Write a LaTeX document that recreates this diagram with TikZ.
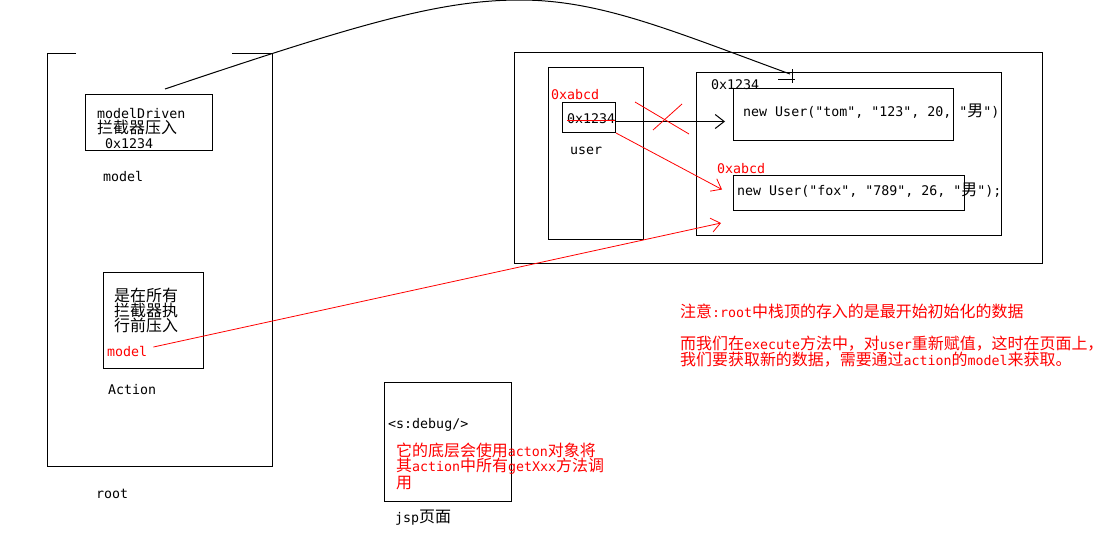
\documentclass[tikz,border=0pt]{standalone}
\usepackage{fontspec}
\setmonofont{DejaVu Sans Mono}
\newfontfamily\zhfont[Scale=1.2]{Noto Sans CJK SC}
\newcommand{\zh}[1]{{\zhfont #1}}
\usetikzlibrary{arrows.meta}
\begin{document}
\begin{tikzpicture}[x=1pt,y=-1pt,
	box/.style={draw,line width=1pt,inner sep=0pt,anchor=north west},
	txt/.style={anchor=base west,inner sep=0pt,align=left,font=\ttfamily\fontsize{13.3}{15}\selectfont},
	redtxt/.style={txt,text=red},
	redline/.style={draw=red,line width=0.8pt},
	ptr/.style={line width=1pt,-{Straight Barb[length=9pt,width=14pt]}},
	redptr/.style={redline,-{Straight Barb[length=9pt,width=14pt]}}]
	\useasboundingbox (0,0) rectangle (1110,544);
	\draw[line width=1pt] (76,53) -| (47,466) -| (272,53) -- (232,53);
	\node[box,minimum width=127,minimum height=56] (drv) at (85,94) {};
	\node[txt] (drvtxt) at (97,148) {modelDriven\\\zh{拦截器压入}\\\hspace{8pt}0x1234};
	\node[txt] (mdl) at (103,181) {model};
	\node[box,minimum width=100,minimum height=96] (act) at (103,272) {};
	\node[txt] (acttxt) at (114,331) {\zh{是在所有}\\\zh{拦截器执}\\\zh{行前压入}};
	\node[redtxt] (amdl) at (107,356) {model};
	\node[txt] (actlbl) at (108,394) {Action};
	\node[txt] (rootlbl) at (96,498) {root};
	\node[box,minimum width=528,minimum height=211] (ctx) at (514,52) {};
	\node[box,minimum width=95,minimum height=172] (usr) at (548,67) {};
	\node[box,minimum width=53,minimum height=30] (ref) at (562,102) {};
	\node[redtxt] (newaddr) at (551,99) {0xabcd};
	\node[txt] (oldaddr) at (567,123) {0x1234};
	\node[txt] (usrlbl) at (570,154) {user};
	\node[box,minimum width=305,minimum height=163] (heap) at (696,72) {};
	\node[txt] (heapaddr) at (711,89) {0x1234};
	\node[box,minimum width=220,minimum height=52] (tom) at (733,88) {};
	\node[txt] (tomtxt) at (743,116) {new User("tom", "123", 20, "\zh{男}")};
	\node[redtxt] (foxaddr) at (717,173) {0xabcd};
	\node[box,minimum width=231,minimum height=35] (fox) at (733,175) {};
	\node[txt] (foxtxt) at (737,195) {new User("fox", "789", 26, "\zh{男}");};
	\node[box,minimum width=127,minimum height=119] (jsp) at (384,382) {};
	\node[txt] (dbg) at (388,428) {<s:debug/>};
	\node[redtxt] (dbgnote) at (396,488) {\zh{它的底层会使用}acton\zh{对象将}\\\zh{其}action\zh{中所有}getXxx\zh{方法调}\\\zh{用}};
	\node[txt] (jsplbl) at (395,522) {jsp\zh{页面}};
	\node[redtxt,font=\ttfamily\fontsize{13.3}{16}\selectfont] (note) at (680,365) {\zh{注意}:root\zh{中栈顶的存入的是最开始初始化的数据}\\[16pt]\zh{而我们在}execute\zh{方法中，对}user\zh{重新赋值，这时在页面上，}\\\zh{我们要获取新的数据，需要通过}action\zh{的}model\zh{来获取。}};
	\coordinate (cs) at (165,89);
	\coordinate (top) at (520,0);
	\coordinate (ce) at (790,74);
	\coordinate (hin) at (721,223);
	\draw[line width=1pt] (cs) .. controls (358,24) and (440,0) .. (top) .. controls (600,0) and (670,30) .. (ce);
	\draw[line width=1pt] (ce) ++(2,-5) -- ++(0,14);
	\draw[line width=1pt] (ce) ++(-12,5) -- ++(17,0);
	\draw[redline] (oldaddr.mid west) -- (oldaddr.mid east);
	\draw[ptr] ([yshift=-4]ref.east) -- ([yshift=-4]ref.east -| tom.west) [shorten >=8pt];
	\draw[redline] (635,102) -- (689,134);
	\draw[redline] (682,104) -- (653,130);
	\draw[redptr] (ref.south east) -- ([xshift=-11,yshift=3.5]fox.west);
	\draw[redptr] ([xshift=6,yshift=4]amdl.east) -- (hin);
\end{tikzpicture}
\end{document}
